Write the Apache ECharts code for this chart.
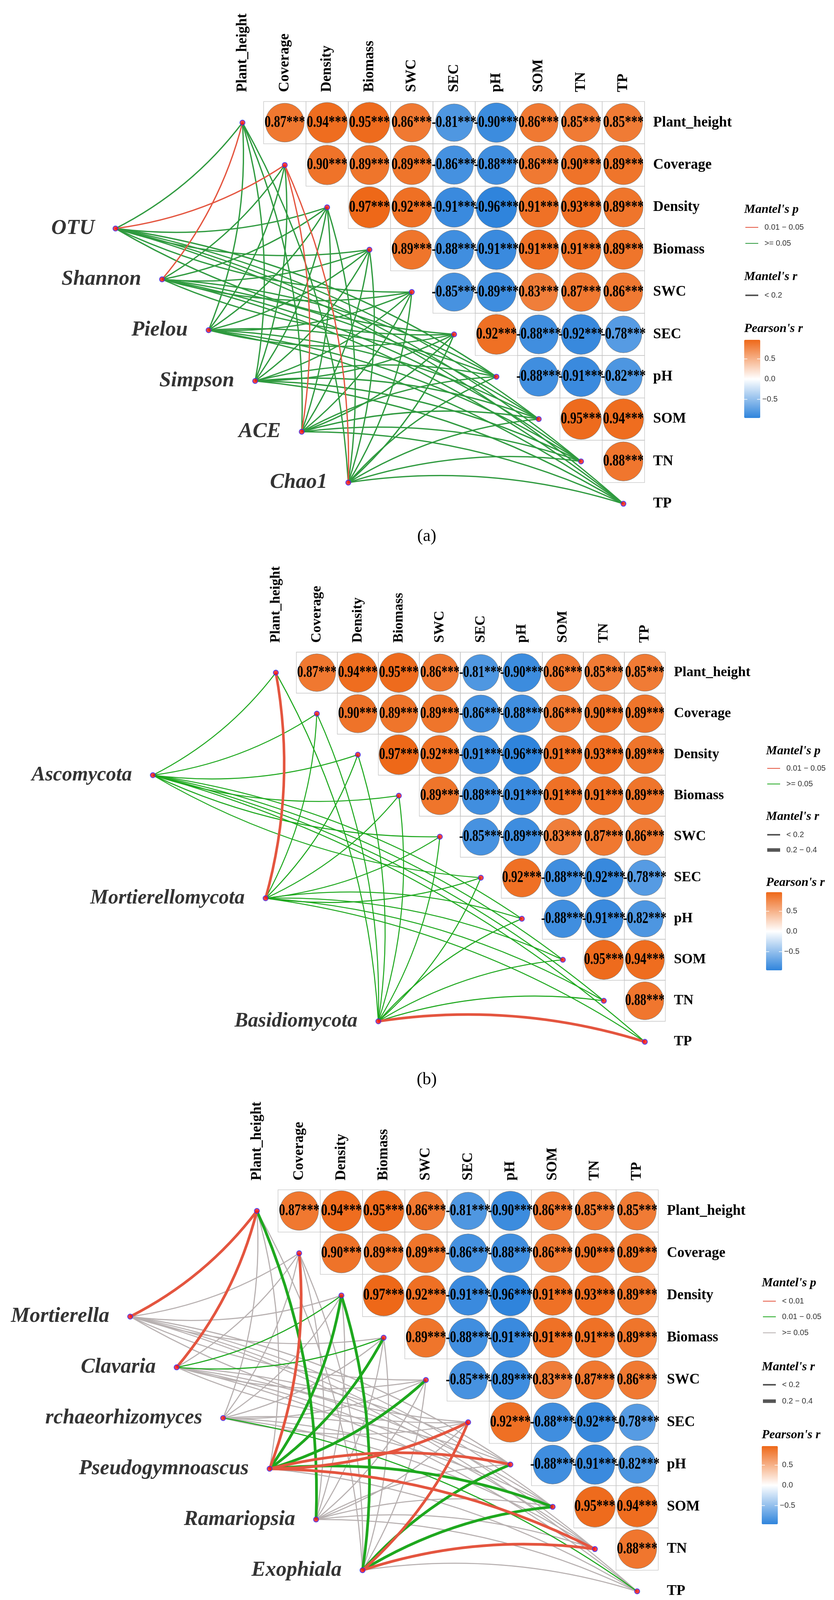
<!DOCTYPE html>
<html>
<head>
<meta charset="utf-8">
<script src="https://cdn.jsdelivr.net/npm/echarts@6/dist/echarts.min.js"></script>
<style>html,body{margin:0;padding:0;background:#fff}#c{width:2136px;height:4213px}</style>
</head>
<body>
<div id="c"></div>
<script>
// ---------------- DATA ----------------
const envVars = ['Plant_height','Coverage','Density','Biomass','SWC','SEC','pH','SOM','TN','TP'];
// Pearson's r (upper triangle, row i vs columns i+1..9)
const corrRows = [
  [0.87, 0.94, 0.95, 0.86, -0.81, -0.90, 0.86, 0.85, 0.85],
  [0.90, 0.89, 0.89, -0.86, -0.88, 0.86, 0.90, 0.89],
  [0.97, 0.92, -0.91, -0.96, 0.91, 0.93, 0.89],
  [0.89, -0.88, -0.91, 0.91, 0.91, 0.89],
  [-0.85, -0.89, 0.83, 0.87, 0.86],
  [0.92, -0.88, -0.92, -0.78],
  [-0.88, -0.91, -0.82],
  [0.95, 0.94],
  [0.88]
];
const corrSig = '***';

// panel (a)
const specA = ['OTU','Shannon','Pielou','Simpson','ACE','Chao1'];
const pLabelsA = ['0.01 \u2212 0.05', '>= 0.05'];
const rLabelsA = ['< 0.2'];
// Mantel's p class per spec x env (index into pLabelsA)
const pClassA = [
  [1,0,1,1,1,1,1,1,1,1],
  [0,1,1,1,1,1,1,1,1,1],
  [1,1,1,1,1,1,1,1,1,1],
  [1,1,1,1,1,1,1,1,1,1],
  [1,0,1,1,1,1,1,1,1,1],
  [1,0,1,1,1,1,1,1,1,1]
];
const rClassA = [
  [0,0,0,0,0,0,0,0,0,0],
  [0,0,0,0,0,0,0,0,0,0],
  [0,0,0,0,0,0,0,0,0,0],
  [0,0,0,0,0,0,0,0,0,0],
  [0,0,0,0,0,0,0,0,0,0],
  [0,0,0,0,0,0,0,0,0,0]
];

// panel (b)
const specB = ['Ascomycota','Mortierellomycota','Basidiomycota'];
const pLabelsB = ['0.01 \u2212 0.05', '>= 0.05'];
const rLabelsB = ['< 0.2', '0.2 \u2212 0.4'];
const pClassB = [
  [1,1,1,1,1,1,1,1,1,1],
  [0,1,1,1,1,1,1,1,1,1],
  [1,1,1,1,1,1,1,1,1,0]
];
const rClassB = [
  [0,0,0,0,0,0,0,0,0,0],
  [1,0,0,0,0,0,0,0,0,0],
  [0,0,0,0,0,0,0,0,0,1]
];

// panel (c)
const specC = ['Mortierella','Clavaria','rchaeorhizomyces','Pseudogymnoascus','Ramariopsia','Exophiala'];
const pLabelsC = ['< 0.01', '0.01 \u2212 0.05', '>= 0.05'];
const rLabelsC = ['< 0.2', '0.2 \u2212 0.4'];
const pClassC = [
  [0,2,2,2,2,2,2,2,2,2],
  [0,2,1,1,2,2,2,2,2,2],
  [2,2,2,2,2,2,2,2,2,1],
  [2,0,1,1,1,0,0,1,0,2],
  [1,2,2,2,2,2,2,2,2,2],
  [2,2,1,2,2,0,1,1,0,2]
];
const rClassC = [
  [1,0,0,0,0,0,0,0,0,0],
  [1,0,0,0,0,0,0,0,0,0],
  [0,0,0,0,0,0,0,0,0,0],
  [0,1,1,1,1,1,1,1,1,0],
  [1,0,0,0,0,0,0,0,0,0],
  [0,0,1,0,0,1,1,1,1,0]
];

const colorTicks = [0.5, 0.0, -0.5];
const colorTickLabels = ['0.5', '0.0', '\u22120.5'];
const captions = ['(a)', '(b)', '(c)'];

// ---------------- STYLE / LAYOUT ----------------
const SERIF = 'Liberation Serif';
const RED = '#E4553F', GREEN_A = '#2F9A3F', GREEN = '#1EA81E', GREY = '#B7B0B0';
const R_LEG_WIDTH = [4, 9];
const SPEC_START = [-3, 2.5], SPEC_END = [2.5, 8.5];
const CURV = 0.115;
const R_MIN = -0.96, R_MAX = 0.97;

const panels = [
  { spec: specA, p: pClassA, r: rClassA, pLabels: pLabelsA, rLabels: rLabelsA, pColors: [RED, GREEN_A],
    widths: [3.3, 6.8],
    left: 566.8, top: 259.8, size: 1084,
    legX: 1906, pTitleY: 537, pItemsY: [582, 623], rTitleY: 709, rItemsY: [756], pearY: 842, barTop: 870, capY: 1373 },
  { spec: specB, p: pClassB, r: rClassB, pLabels: pLabelsB, rLabels: rLabelsB, pColors: [RED, GREEN],
    widths: [2.6, 6.6],
    left: 654, top: 1669.5, size: 1050,
    legX: 1962, pTitleY: 1923, pItemsY: [1967, 2007], rTitleY: 2091, rItemsY: [2137, 2176], pearY: 2260, barTop: 2284, capY: 2764 },
  { spec: specC, p: pClassC, r: rClassC, pLabels: pLabelsC, rLabels: rLabelsC, pColors: [RED, GREEN, GREY],
    widths: [2.8, 7.0],
    left: 603.9, top: 3045.9, size: 1082,
    legX: 1951, pTitleY: 3285, pItemsY: [3331, 3371, 3412], rTitleY: 3500, rItemsY: [3545, 3587], pearY: 3674, barTop: 3702, capY: 4163 }
];

function specPos(k, n) {
  const t = n === 1 ? 0 : k / (n - 1);
  return [SPEC_START[0] + t * (SPEC_END[0] - SPEC_START[0]), SPEC_START[1] + t * (SPEC_END[1] - SPEC_START[1])];
}
function fmtR(r) { return (r < 0 ? '-' : '') + Math.abs(r).toFixed(2) + corrSig; }

const cellData = [];
corrRows.forEach((row, i) => row.forEach((r, k) => cellData.push([i + 1 + k, i, r])));

const grids = [], xAxes = [], yAxes = [], series = [], visualMaps = [], gfx = [];

panels.forEach((P, pi) => {
  const scale = P.size / 1084;
  const fs = Math.round(37 * scale);
  grids.push({ left: P.left, top: P.top, width: P.size, height: P.size, show: false });
  xAxes.push({ type: 'category', gridIndex: pi, data: envVars, position: 'top',
    axisLine: { show: false }, axisTick: { show: false }, splitLine: { show: false },
    axisLabel: { interval: 0, rotate: 90, margin: 24, color: '#000', fontFamily: SERIF, fontWeight: 'bold', fontSize: fs } });
  xAxes.push({ type: 'value', gridIndex: pi, min: -0.5, max: 9.5, show: false, splitLine: { show: false } });
  yAxes.push({ type: 'category', gridIndex: pi, data: envVars, position: 'right', inverse: true,
    axisLine: { show: false }, axisTick: { show: false }, splitLine: { show: false },
    axisLabel: { interval: 0, margin: 22, color: '#000', fontFamily: SERIF, fontWeight: 'bold', fontSize: fs } });
  yAxes.push({ type: 'value', gridIndex: pi, min: -0.5, max: 9.5, inverse: true, show: false, splitLine: { show: false } });
  const ai = 2 * pi + 1;

  // links
  const n = P.spec.length, nP = P.pLabels.length;
  const links = [];
  for (let s = 0; s < n; s++) {
    const sp = specPos(s, n);
    for (let e = 0; e < envVars.length; e++) {
      const pc = P.p[s][e], rc = P.r[s][e];
      links.push({
        key: rc * 10 + (nP - 1 - pc),
        coords: [sp, [e, e]],
        lineStyle: { color: P.pColors[pc], width: P.widths[rc], curveness: (e >= 6 ? 1 : -1) * CURV, opacity: 1 }
      });
    }
  }
  links.sort((a, b) => a.key - b.key);
  series.push({ type: 'lines', coordinateSystem: 'cartesian2d', xAxisIndex: ai, yAxisIndex: ai,
    clip: false, silent: true, z: 2, data: links.map(l => ({ coords: l.coords, lineStyle: l.lineStyle })) });

  // env nodes
  series.push({ type: 'scatter', xAxisIndex: ai, yAxisIndex: ai, clip: false, silent: true, z: 6,
    symbol: 'circle', symbolSize: 13,
    itemStyle: { color: '#FF1010', borderColor: '#2B2BFF', borderWidth: 2 },
    data: envVars.map((v, k) => [k, k]) });

  // spec nodes
  series.push({ type: 'scatter', xAxisIndex: ai, yAxisIndex: ai, clip: false, silent: true, z: 6,
    symbol: 'circle', symbolSize: 13,
    itemStyle: { color: '#FF1010', borderColor: '#2B2BFF', borderWidth: 2 },
    label: { show: true, position: 'left', distance: 46, formatter: '{b}', color: '#000',
      fontFamily: SERIF, fontStyle: 'italic', fontWeight: 'bold', fontSize: Math.round(54 * scale) },
    data: P.spec.map((name, k) => ({ name: name, value: specPos(k, n) })) });

  // cells + circles
  series.push({ type: 'custom', xAxisIndex: ai, yAxisIndex: ai, silent: true, z: 3,
    data: cellData,
    renderItem: function (params, api) {
      const c = api.coord([api.value(0), api.value(1)]);
      const sz = api.size([1, 1]);
      const w = sz[0], h = sz[1];
      const r = api.value(2);
      const rad = w * 0.5 * 0.985 * Math.sqrt(Math.abs(r));
      return { type: 'group', children: [
        { type: 'rect', shape: { x: c[0] - w / 2, y: c[1] - h / 2, width: w, height: h },
          style: { fill: 'none', stroke: '#C4C4C4', lineWidth: 1.3 } },
        { type: 'circle', shape: { cx: c[0], cy: c[1], r: rad },
          style: { fill: api.visual('color'), stroke: '#7A7A7A', lineWidth: 1 } }
      ] };
    } });

  // cell labels
  series.push({ type: 'custom', xAxisIndex: ai, yAxisIndex: ai, silent: true, z: 4,
    data: cellData,
    renderItem: function (params, api) {
      const c = api.coord([api.value(0), api.value(1)]);
      const r = api.value(2);
      const f = Math.round(33 * scale);
      return { type: 'text', x: c[0], y: c[1], scaleX: 0.97, scaleY: 1.3,
        style: { text: fmtR(r), font: 'bold ' + f + 'px "Liberation Serif"', fill: '#000',
          align: 'center', verticalAlign: 'middle', textAlign: 'center', textVerticalAlign: 'middle' } };
    } });

  visualMaps.push({ type: 'continuous', seriesIndex: pi * 5 + 3, dimension: 2,
    min: R_MIN, max: R_MAX, calculable: false, hoverLink: false, padding: 0,
    left: P.legX, top: P.barTop, itemWidth: 41, itemHeight: 200,
    inRange: { color: ['#2F84DC', '#FFFFFF', '#EE6818'] } });

  // legend graphics
  const titleFont = 'bold italic 32px "Liberation Serif"';
  const txtFont = '20px "Liberation Sans"';
  const T = (x, y, text, font, fill, align) => ({ type: 'text', x: x, y: y, z: 20,
    style: { text: text, font: font, fill: fill || '#000', align: align || 'left', verticalAlign: 'middle',
      textAlign: align || 'left', textVerticalAlign: 'middle' } });
  const L = (x1, x2, y, color, w) => ({ type: 'line', z: 20, shape: { x1: x1, y1: y, x2: x2, y2: y },
    style: { stroke: color, lineWidth: w } });
  const X = P.legX;
  gfx.push(T(X, P.pTitleY, "Mantel's p", titleFont));
  P.pLabels.forEach((lab, k) => {
    gfx.push(L(X + 3, X + 36, P.pItemsY[k], P.pColors[k], 2.2));
    gfx.push(T(X + 52, P.pItemsY[k], lab, txtFont, '#333'));
  });
  gfx.push(T(X, P.rTitleY, "Mantel's r", titleFont));
  P.rLabels.forEach((lab, k) => {
    gfx.push(L(X + 3, X + 36, P.rItemsY[k], '#555555', R_LEG_WIDTH[k]));
    gfx.push(T(X + 52, P.rItemsY[k], lab, txtFont, '#333'));
  });
  gfx.push(T(X, P.pearY, "Pearson's r", titleFont));
  colorTicks.forEach((v, k) => {
    const y = P.barTop + (R_MAX - v) / (R_MAX - R_MIN) * 200;
    gfx.push(L(X, X + 8, y, '#FFFFFF', 1.5));
    gfx.push(L(X + 33, X + 41, y, '#FFFFFF', 1.5));
    gfx.push(T(X + 66, y, colorTickLabels[k], txtFont, '#333', 'center'));
  });
  gfx.push(T(1093, P.capY, captions[pi], '44px "Liberation Serif"', '#000', 'center'));
});

const chart = echarts.init(document.getElementById('c'), null, { renderer: 'canvas', width: 2136, height: 4213 });
chart.setOption({
  backgroundColor: '#ffffff',
  animation: false,
  grid: grids,
  xAxis: xAxes,
  yAxis: yAxes,
  visualMap: visualMaps,
  series: series,
  graphic: { elements: gfx }
});
</script>
</body>
</html>
